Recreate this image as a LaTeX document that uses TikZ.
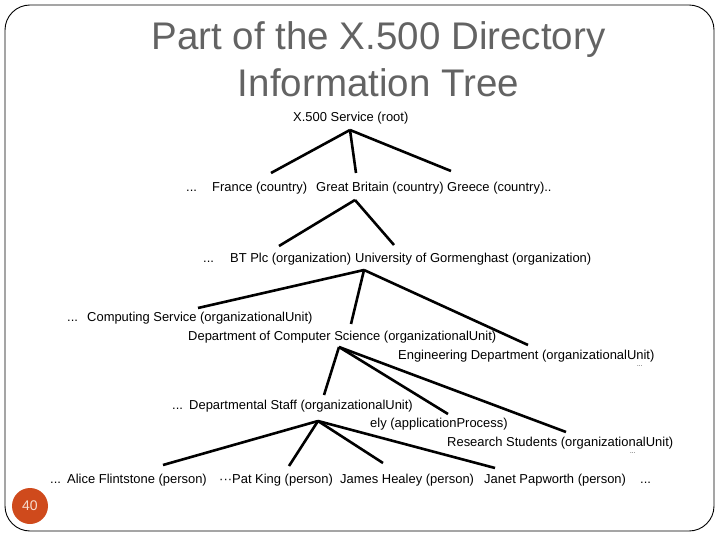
\documentclass[tikz,border=0pt]{standalone}
\usepackage{fontspec}
\setmainfont{Liberation Sans}
\usepackage{xcolor}
\usepackage{tikz}
\usetikzlibrary{calc}
\definecolor{TitleGray}{HTML}{636363}
\definecolor{PageOrange}{HTML}{CF4A1C}
\definecolor{PageText}{HTML}{F6DCCF}

\tikzset{
  entry/.style={anchor=base west, inner sep=0pt, font=\fontsize{12.95bp}{15bp}\selectfont},
  tiny/.style={anchor=base west, inner sep=0pt, font=\fontsize{6bp}{7bp}\selectfont},
  heading/.style={anchor=base, inner sep=0pt, text=TitleGray, font=\fontsize{38.5bp}{44bp}\selectfont},
  link/.style={line width=2.6bp},
  pagemark/.style={circle, fill=PageOrange, minimum size=36bp, inner sep=0pt,
                   text=PageText, font=\fontsize{14bp}{16bp}\selectfont}
}

\begin{document}
\begin{tikzpicture}[x=1bp, y=-1bp]
  \useasboundingbox (0,0) rectangle (720,540);
  % slide frame
  \draw[line width=0.9bp, rounded corners=25bp] (5,5) rectangle (714,531);

  % title
  \node[heading] (title1) at (378.5,50) {Part of the X.500 Directory};
  \node[heading] (title2) at (378.5,97) {Information Tree};

  % tree entries
  \node[entry] (root) at (293,122) {X.500 Service (root)};

  \node[entry] (dotsA) at (186,192) {...};
  \node[entry] (france) at (212,192) {France (country)};
  \node[entry] (gb) at (316,192) {Great Britain (country)};
  \node[entry] (greece) at (447,192) {Greece (country)..};

  \node[entry] (dotsB) at (203,263) {...};
  \node[entry] (bt) at (230,263) {BT Plc (organization)};
  \node[entry] (univ) at (355,263) {University of Gormenghast (organization)};

  \node[entry] (dotsC) at (67,321) {...};
  \node[entry] (cs) at (87,321) {Computing Service (organizationalUnit)};
  \node[entry] (dcs) at (188,340) {Department of Computer Science (organizationalUnit)};
  \node[entry] (eng) at (398,359) {Engineering Department (organizationalUnit)};
  \node[tiny] (dotsD) at (637,366) {...};

  \node[entry] (dotsE) at (172,409) {...};
  \node[entry] (staff) at (189,409) {Departmental Staff (organizationalUnit)};
  \node[entry] (ely) at (370,427) {ely (applicationProcess)};
  \node[entry] (research) at (447,446) {Research Students (organizationalUnit)};
  \node[tiny] (dotsF) at (630,453) {...};

  \node[entry] (dotsG) at (50,483) {...};
  \node[entry] (alice) at (67,483) {Alice Flintstone (person)};
  \node[entry] (dotsH) at (219,483) {···};
  \node[entry] (pat) at (232,483) {Pat King (person)};
  \node[entry] (james) at (340,483) {James Healey (person)};
  \node[entry] (janet) at (484,483) {Janet Papworth (person)};
  \node[entry] (dotsI) at (640,483) {...};

  % connectors
  \draw[link] ([shift={(57,8)}]root.base west) -- ([shift={(59,-19)}]france.base west);
  \draw[link] ([shift={(57,8)}]root.base west) -- ([shift={(40,-19)}]gb.base west);
  \draw[link] ([shift={(57,8)}]root.base west) -- ([shift={(4,-21)}]greece.base west);

  \draw[link] ([shift={(39,8)}]gb.base west) -- ([shift={(49,-17)}]bt.base west);
  \draw[link] ([shift={(39,8)}]gb.base west) -- ([shift={(39,-18)}]univ.base west);

  \draw[link] ([shift={(9,7)}]univ.base west) -- ([shift={(111,-13)}]cs.base west);
  \draw[link] ([shift={(9,7)}]univ.base west) -- ([shift={(163,-16)}]dcs.base west);
  \draw[link] ([shift={(9,7)}]univ.base west) -- ([shift={(130,-14)}]eng.base west);

  \draw[link] ([shift={(151,7)}]dcs.base west) -- ([shift={(135,-14)}]staff.base west);
  \draw[link] ([shift={(151,7)}]dcs.base west) -- ([shift={(78,-13)}]ely.base west);
  \draw[link] ([shift={(151,7)}]dcs.base west) -- ([shift={(119,-14)}]research.base west);

  \draw[link] ([shift={(129,12)}]staff.base west) -- ([shift={(96,-18)}]alice.base west);
  \draw[link] ([shift={(129,12)}]staff.base west) -- ([shift={(57,-17)}]pat.base west);
  \draw[link] ([shift={(129,12)}]staff.base west) -- ([shift={(43,-20)}]james.base west);
  \draw[link] ([shift={(129,12)}]staff.base west) -- ([shift={(11,-15)}]janet.base west);

  % slide number
  \node[pagemark] (pageno) at (30,506) {40};
\end{tikzpicture}
\end{document}
